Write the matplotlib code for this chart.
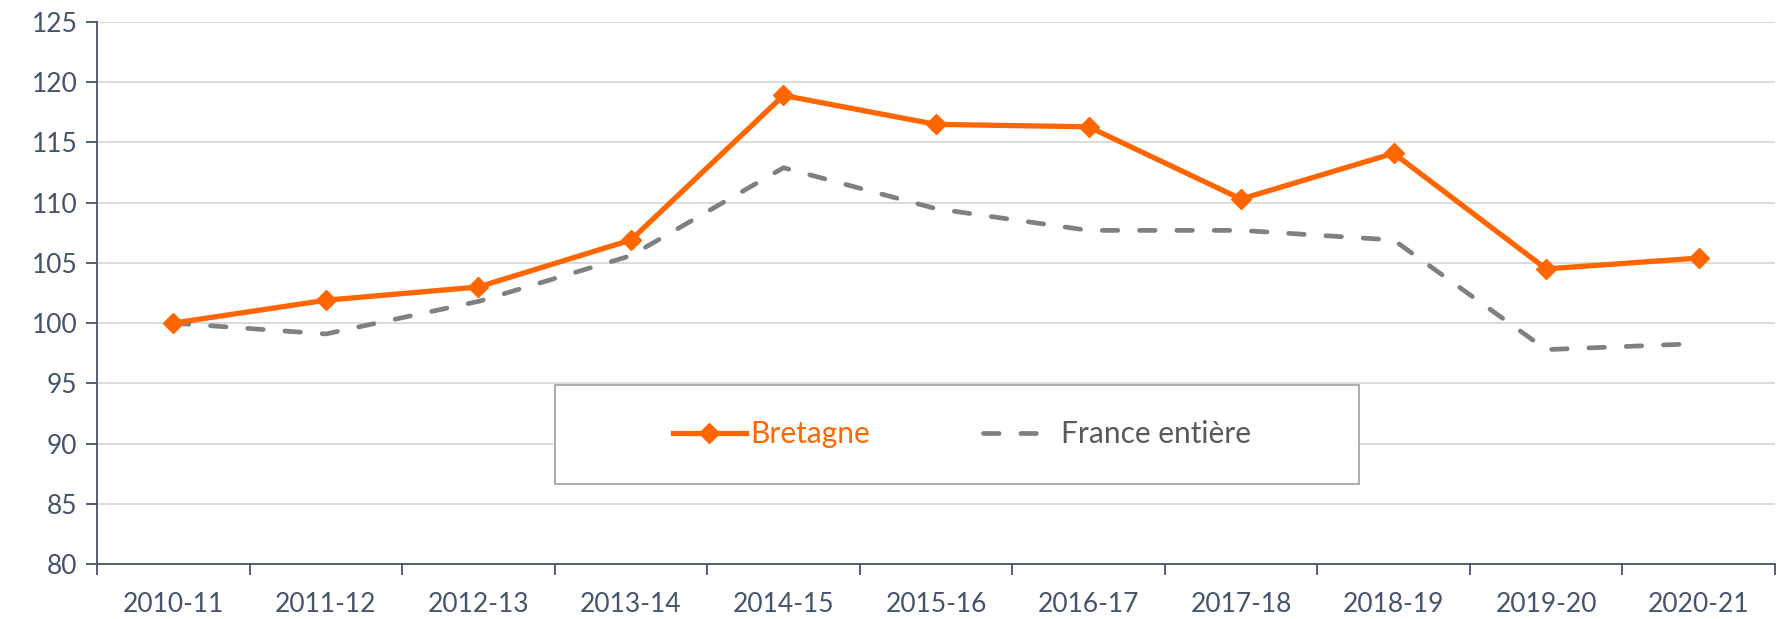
import matplotlib.pyplot as plt
from matplotlib.patches import Rectangle
import numpy as np

plt.rcParams['font.family'] = ['Lato', 'DejaVu Sans']

years = ['2010-11', '2011-12', '2012-13', '2013-14', '2014-15', '2015-16',
         '2016-17', '2017-18', '2018-19', '2019-20', '2020-21']
bretagne = [100.0, 101.9, 103.0, 106.9, 118.9, 116.5, 116.3, 110.3, 114.1, 104.5, 105.4]
france = [100.0, 99.1, 101.8, 105.6, 112.9, 109.5, 107.7, 107.7, 106.9, 97.8, 98.3]

axis_col = '#44546A'
orange = '#FF6600'
gray = '#808080'

fig = plt.figure(figsize=(17.86, 6.19), dpi=100)
ax = fig.add_axes([97 / 1786, 1 - 564 / 619, 1678 / 1786, 542 / 619])

x = np.arange(len(years))
ax.plot(x, bretagne, color=orange, lw=3.8, marker='D', markersize=10,
        label='Bretagne', zorder=3)
ax.plot(x, france, color=gray, lw=3.4, dashes=(3.3, 4.6), dash_capstyle='round',
        label='France entière', zorder=2)

ax.set_xlim(-0.5, len(years) - 0.5)
ax.set_ylim(80, 125)
ax.set_yticks(np.arange(80, 126, 5))
ax.yaxis.grid(True, color='#D9D9D9', lw=1.3)
ax.set_axisbelow(True)

ax.set_xticks(x)
ax.set_xticklabels(years)
ax.set_xticks(np.arange(-0.5, len(years), 1), minor=True)
ax.tick_params(axis='x', which='major', length=0, pad=20, labelsize=19, colors=axis_col)
ax.tick_params(axis='x', which='minor', length=8, width=1.3, color=axis_col, direction='out')
ax.tick_params(axis='y', length=8, width=1.3, color=axis_col, labelsize=19,
               labelcolor=axis_col, pad=6)

for s in ['top', 'right']:
    ax.spines[s].set_visible(False)
for s in ['left', 'bottom']:
    ax.spines[s].set_color(axis_col)
    ax.spines[s].set_linewidth(1.3)

# legend box
box = (0.273, 0.1475, 0.479, 0.183)
ax.add_patch(Rectangle(box[:2], box[2], box[3], transform=ax.transAxes,
                       facecolor='white', edgecolor='#A6A6A6', lw=1.3, zorder=4))
leg = ax.legend(loc='center left', bbox_to_anchor=(0.343, box[1] + box[3] / 2),
                ncol=2, frameon=False, fontsize=21.5, handlelength=2.45,
                handletextpad=0.15, columnspacing=3.8, borderaxespad=0, borderpad=0)
leg.set_zorder(5)
leg.get_texts()[0].set_color(orange)
leg.get_texts()[1].set_color('#595959')

fig.savefig('out.png', dpi=100)
